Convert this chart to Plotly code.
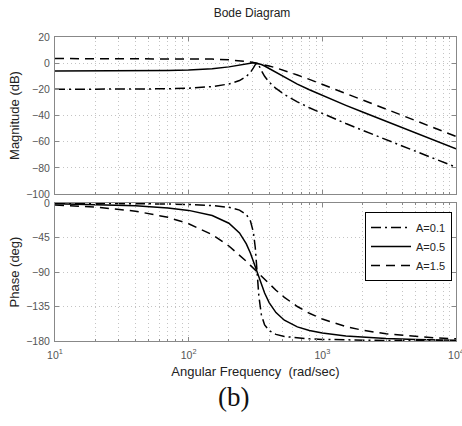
import plotly.graph_objects as go

# Frequencies (rad/sec) sampled along the curves
freq = [10, 20, 40, 70, 100, 150, 200, 240, 270, 290, 305, 315, 325, 335, 350,
        370, 400, 450, 520, 650, 800, 1000, 1500, 2000, 3000, 5000, 7000, 10000]

labels = ["A=0.1", "A=0.5", "A=1.5"]

mag_a01 = [-19.99, -19.97, -19.87, -19.59, -19.14, -17.93, -15.91, -13.27, -10.12, -6.95,
           -3.63, -1.16, 0.00, -1.62, -5.70, -10.03, -14.47, -19.35, -23.91, -29.56,
           -34.09, -38.56, -46.15, -51.33, -58.51, -67.45, -73.31, -79.52]
mag_a05 = [-6.01, -5.99, -5.90, -5.66, -5.28, -4.30, -2.84, -1.37, -0.31, 0.17,
           0.28, 0.20, 0.00, -0.33, -1.01, -2.17, -4.11, -7.23, -10.90, -16.02,
           -20.35, -24.72, -32.23, -37.38, -44.54, -53.47, -59.33, -65.54]
mag_a15 = [3.52, 3.52, 3.50, 3.46, 3.38, 3.11, 2.59, 1.96, 1.35, 0.89,
           0.52, 0.26, 0.00, -0.27, -0.69, -1.25, -2.13, -3.60, -5.61, -9.03,
           -12.41, -16.16, -23.11, -28.08, -35.10, -43.97, -49.81, -56.00]

ph_a01 = [-0.18, -0.35, -0.72, -1.29, -1.95, -3.36, -5.66, -9.23, -15.01, -23.65,
          -38.19, -57.99, -90.0, -121.23, -146.01, -158.97, -166.55, -171.42, -174.14, -176.19,
          -177.21, -177.92, -178.70, -179.04, -179.37, -179.63, -179.73, -179.81]
ph_a05 = [-0.88, -1.77, -3.58, -6.44, -9.64, -16.34, -26.35, -39.08, -53.28, -65.45,
          -75.74, -82.87, -90.0, -96.91, -106.53, -117.48, -129.91, -142.95, -152.85, -161.57,
          -166.33, -169.70, -173.52, -175.23, -176.86, -178.13, -178.67, -179.07]
ph_a15 = [-2.65, -5.29, -10.62, -18.72, -27.01, -41.34, -56.06, -67.69, -76.04, -81.34,
          -85.16, -87.61, -90.0, -92.31, -95.65, -99.84, -105.58, -113.83, -123.02, -135.00,
          -143.88, -151.41, -161.17, -165.94, -170.66, -174.41, -176.01, -177.21]

mag_ticks = [20, 0, -20, -40, -60, -80, -100]
ph_ticks = [0, -45, -90, -135, -180]
x_tickvals = [10, 100, 1000, 10000]
x_ticktext = ["10<sup>1</sup>", "10<sup>2</sup>", "10<sup>3</sup>", "10<sup>4</sup>"]

dashes = ["10px,4px,2px,4px", "solid", "9px,6px"]
mags = [mag_a01, mag_a05, mag_a15]
phs = [ph_a01, ph_a05, ph_a15]

fig = go.Figure()
for lab, d, m, p in zip(labels, dashes, mags, phs):
    fig.add_trace(go.Scatter(x=freq, y=m, mode="lines", name=lab, showlegend=False,
                             line=dict(color="black", width=1.5, dash=d),
                             xaxis="x", yaxis="y"))
    fig.add_trace(go.Scatter(x=freq, y=p, mode="lines", name=lab, showlegend=True,
                             line=dict(color="black", width=1.5, dash=d),
                             xaxis="x2", yaxis="y2"))

W, H = 462, 426
x0, x1 = 55 / W, 456 / W
grid_col = "#c4c4c4"
frame_col = "#888888"
grid_dash = "1px,3px"
tick_font = dict(family="Liberation Sans, Arial, sans-serif", size=10.5, color="#555")

common_x = dict(type="log", range=[1, 4], domain=[x0, x1], showline=True, linecolor=frame_col,
                linewidth=1, mirror="ticks", ticks="inside", ticklen=4, tickcolor=frame_col,
                showgrid=True, gridcolor=grid_col, griddash=grid_dash, gridwidth=1,
                tickvals=x_tickvals, ticktext=x_ticktext, zeroline=False,
                ticklabeloverflow="allow", automargin=False,
                minor=dict(dtick="D1", ticks="inside", ticklen=2, tickcolor=frame_col,
                           showgrid=True, gridcolor=grid_col, griddash=grid_dash, gridwidth=1),
                tickfont=tick_font)

fig.update_layout(
    width=W, height=H, margin=dict(l=0, r=0, t=0, b=0),
    paper_bgcolor="white", plot_bgcolor="white",
    font=dict(family="Liberation Sans, Arial, sans-serif", color="#222"),
    xaxis=dict(common_x, anchor="y", showticklabels=False),
    yaxis=dict(range=[-100, 20], domain=[1 - 194 / H, 1 - 37 / H], tickvals=mag_ticks,
               showline=True, linecolor=frame_col, mirror="ticks", ticks="inside", ticklen=4,
               tickcolor=frame_col, showgrid=True, gridcolor=grid_col, griddash=grid_dash,
               zeroline=False, tickfont=tick_font, automargin=False, ticklabelstandoff=2,
               title=dict(text="Magnitude (dB)", font=dict(size=13, color="#222"), standoff=3)),
    xaxis2=dict(common_x, anchor="y2", ticklabelstandoff=4,
                title=dict(text="Angular Frequency \u00a0(rad/sec)", font=dict(size=13, color="#222"), standoff=7)),
    yaxis2=dict(range=[-180, 0], domain=[1 - 341 / H, 1 - 203 / H], tickvals=ph_ticks,
                showline=True, linecolor=frame_col, mirror="ticks", ticks="inside", ticklen=4,
                tickcolor=frame_col, showgrid=True, gridcolor=grid_col, griddash=grid_dash,
                zeroline=False, tickfont=tick_font, automargin=False, ticklabelstandoff=2,
                title=dict(text="Phase (deg)", font=dict(size=13, color="#222"), standoff=3)),
    legend=dict(x=452 / W, y=1 - 212 / H, xanchor="right", yanchor="top",
                bgcolor="white", bordercolor="black", borderwidth=1,
                font=dict(size=11, color="#222"), tracegroupgap=0, itemwidth=40),
    title=dict(text="Bode Diagram", x=252 / W, xanchor="center", y=1 - 13 / H, yanchor="middle",
               font=dict(size=12, color="#222")),
    annotations=[dict(text="(b)", x=234 / W, y=1 - 397 / H, xref="paper", yref="paper",
                      showarrow=False, xanchor="center", yanchor="middle",
                      font=dict(family="Liberation Serif, DejaVu Serif, serif", size=27, color="#111"))],
)

fig.write_html("out.html")
